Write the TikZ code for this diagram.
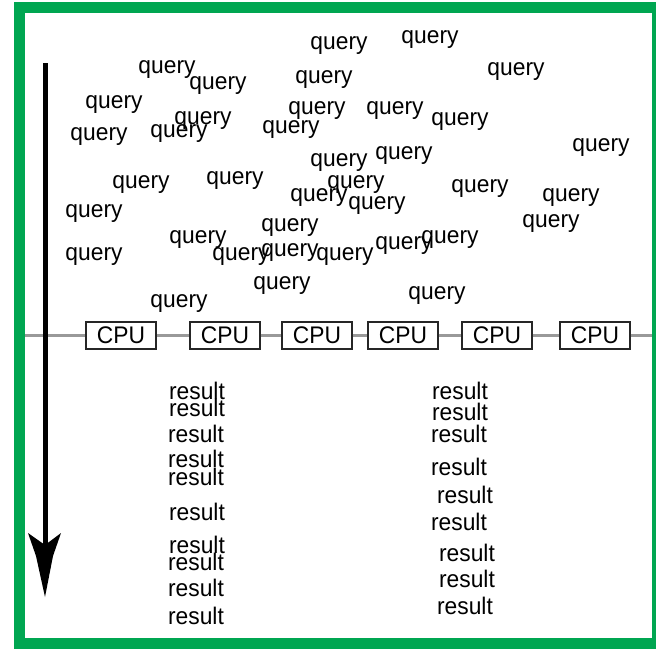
\documentclass[tikz,border=0pt]{standalone}
\usepackage{fontspec}
\setmainfont[FakeStretch=0.95]{Liberation Sans}
\definecolor{framegreen}{RGB}{0,166,81}
\begin{document}
\begin{tikzpicture}[x=1pt,y=-1pt,
  lbl/.style={inner sep=0pt,font=\fontsize{24}{24}\selectfont},
  cpubox/.style={draw=black!85,line width=1.3pt,fill=white,minimum width=70pt,minimum height=27pt,inner sep=0pt,font=\fontsize{24}{24}\selectfont},
  bus/.style={draw=black!40,line width=2.5pt}]
\useasboundingbox (0,0) rectangle (656,649);
\fill[white] (0,0) rectangle (656,649);
\draw[framegreen,line width=11pt] (19.5,7.5) rectangle (657.5,643.5);
% bus and CPUs
\coordinate (busL) at (25,335.5);
\coordinate (busR) at (652,335.5);
\node[cpubox] (c1) at (121,335.5) {CPU};
\node[cpubox] (c2) at (225,335.5) {CPU};
\node[cpubox] (c3) at (317,335.5) {CPU};
\node[cpubox] (c4) at (403,335.5) {CPU};
\node[cpubox] (c5) at (497,335.5) {CPU};
\node[cpubox] (c6) at (595,335.5) {CPU};
\draw[bus] (busL) -- (c1) -- (c2) -- (c3) -- (c4) -- (c5) -- (c6) -- (busR);
% time arrow
\coordinate (aS) at (45,63);
\coordinate (aE) at (45,545);
\draw[black,line width=5pt] (aS) -- (aE);
\fill[black] (45,597) -- (36,556) -- (28,533) -- (45,545) -- (61,533) -- (53,556) -- cycle;
% queries
\begin{scope}[shift={(0,3)}]
\node[lbl] (q1) at (339,43) {query};
\node[lbl] (q2) at (430,37) {query};
\node[lbl] (q3) at (167,67) {query};
\node[lbl] (q4) at (218,83) {query};
\node[lbl] (q5) at (324,77) {query};
\node[lbl] (q6) at (516,69) {query};
\node[lbl] (q7) at (114,102) {query};
\node[lbl] (q8) at (203,118) {query};
\node[lbl] (q9) at (317,108) {query};
\node[lbl] (q10) at (395,108) {query};
\node[lbl] (q11) at (460,119) {query};
\node[lbl] (q12) at (99,134) {query};
\node[lbl] (q13) at (179,131) {query};
\node[lbl] (q14) at (291,127) {query};
\node[lbl] (q15) at (601,145) {query};
\node[lbl] (q16) at (339,160) {query};
\node[lbl] (q17) at (404,153) {query};
\node[lbl] (q18) at (141,182) {query};
\node[lbl] (q19) at (235,178) {query};
\node[lbl] (q20) at (356,182) {query};
\node[lbl] (q21) at (319,195) {query};
\node[lbl] (q22) at (377,203) {query};
\node[lbl] (q23) at (480,186) {query};
\node[lbl] (q24) at (571,195) {query};
\node[lbl] (q25) at (94,211) {query};
\node[lbl] (q26) at (551,221) {query};
\node[lbl] (q27) at (290,225) {query};
\node[lbl] (q28) at (198,237) {query};
\node[lbl] (q29) at (450,237) {query};
\node[lbl] (q30) at (94,254) {query};
\node[lbl] (q31) at (241,254) {query};
\node[lbl] (q32) at (290,250) {query};
\node[lbl] (q33) at (345,254) {query};
\node[lbl] (q34) at (404,243) {query};
\node[lbl] (q35) at (282,283) {query};
\node[lbl] (q36) at (437,293) {query};
\node[lbl] (q37) at (179,301) {query};
\end{scope}
% results
\node[lbl] (r1) at (197,391) {result};
\node[lbl] (r2) at (197,408) {result};
\node[lbl] (r3) at (196,434) {result};
\node[lbl] (r4) at (196,459) {result};
\node[lbl] (r5) at (196,477) {result};
\node[lbl] (r6) at (197,512) {result};
\node[lbl] (r7) at (197,545) {result};
\node[lbl] (r8) at (196,562) {result};
\node[lbl] (r9) at (196,588) {result};
\node[lbl] (r10) at (196,616) {result};
\node[lbl] (s1) at (460,391) {result};
\node[lbl] (s2) at (460,412) {result};
\node[lbl] (s3) at (459,434) {result};
\node[lbl] (s4) at (459,467) {result};
\node[lbl] (s5) at (465,495) {result};
\node[lbl] (s6) at (459,522) {result};
\node[lbl] (s7) at (467,553) {result};
\node[lbl] (s8) at (467,579) {result};
\node[lbl] (s9) at (465,606) {result};
\end{tikzpicture}
\end{document}
